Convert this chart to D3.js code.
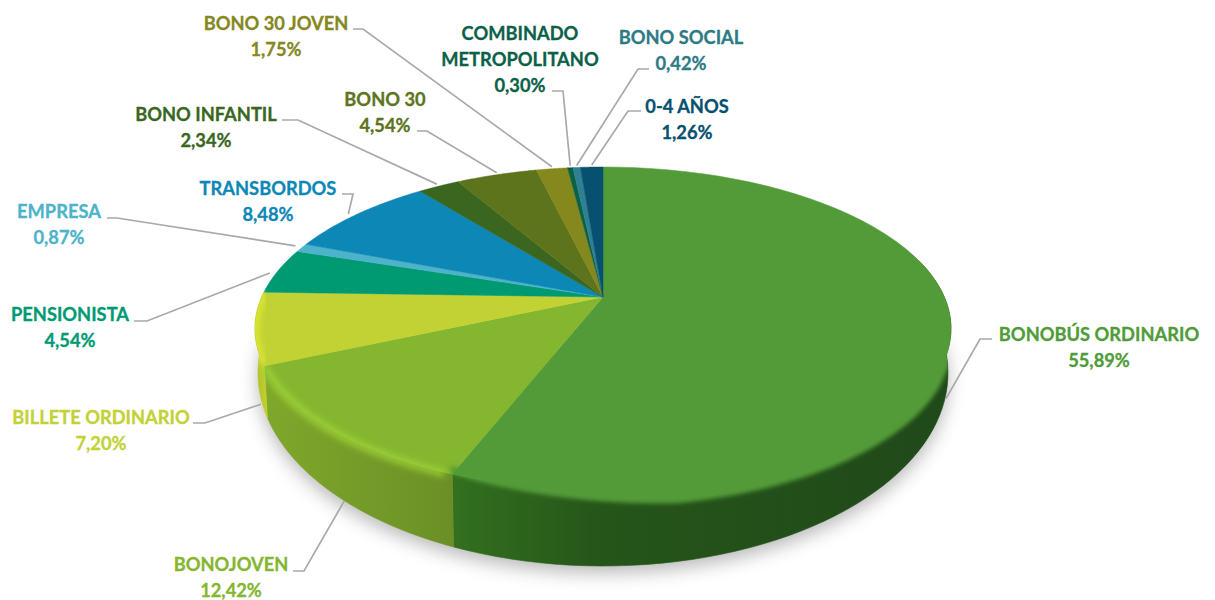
<!DOCTYPE html>
<html><head><meta charset="utf-8">
<style>html,body{margin:0;padding:0;background:#fff}svg{display:block}text{font-family:Lato,"Open Sans",sans-serif;font-weight:700}</style>
<script src="https://cdn.jsdelivr.net/npm/d3@7/dist/d3.min.js"></script>
</head><body><svg id="c" width="1215" height="600"></svg>
<script>
const categories=["BONOBÚS ORDINARIO","BONOJOVEN","BILLETE ORDINARIO","PENSIONISTA","EMPRESA","TRANSBORDOS","BONO INFANTIL","BONO 30","BONO 30 JOVEN","COMBINADO METROPOLITANO","BONO SOCIAL","0-4 AÑOS"];
const values=[55.89,12.42,7.20,4.54,0.87,8.48,2.34,4.54,1.75,0.30,0.42,1.26];
const colors=["#529b38","#85b62f","#c2d235","#009a72","#4cb3ca","#0c87b6","#3a661f","#5d741d","#85881d","#0b6048","#2f8090","#07506f"];
const labelColors=["#4f9c38","#85b62f","#c2d235","#009a72","#4cb3ca","#0c87b6","#3a661f","#5d741d","#85881d","#0b6048","#2d7a85","#07506f"];
const sideLeft=["#33701f","#7fa82b","#aebd2c"], sideRight=["#20491a","#6b8f26","#c4d12e"];
// label layout: centre x, first-line centre y, stub start, elbow, offset of the end from the slice's rim point
const labelLayout=[
 {x:1099,y:335,s:[992,339],e:[980,339],o:[-5,72]},
 {x:231,y:565,s:[293,571],e:[304,571],o:[15,73]},
 {x:101,y:418,s:[193,423],e:[205,423],o:[6,76]},
 {x:70,y:315,s:[134,321],e:[147,321],o:[-8,2]},
 {x:59,y:212,s:[107,218],e:[117,218],o:[-6,-2]},
 {x:268,y:189,s:[342,194],e:[353,194],o:[-9,0]},
 {x:206,y:115,s:[282,120],e:[298,120],o:[-2,-2]},
 {x:385,y:100,s:[417,131],e:[427,131],o:[0,-2]},
 {x:276,y:24,s:[353,29],e:[363,29],o:[0,-2]},
 {x:520,y:34,s:[552,91],e:[563,91],o:[0,-2],lines:["COMBINADO","METROPOLITANO"]},
 {x:681,y:38,s:[649,69],e:[638,69],o:[0,-2]},
 {x:687,y:107,s:[641,111],e:[628,111],o:[0,-2]}
];
const geo={cx:603,apexY:297,topY:167,botY:490,halfW:348,rxB:345,cyB:373,ryB:193};
const svg=d3.select("#c");
const up=geo.apexY-geo.topY, dn=geo.botY-geo.apexY;
const k=(dn-up)/(dn+up), S=up*(1+k), R=geo.halfW*Math.sqrt(1-k*k);
const cyT=(geo.topY+geo.botY)/2, ryT=(geo.botY-geo.topY)/2;
const x=d3.scaleLinear().domain([-1,1]).range([geo.cx-R,geo.cx+R]);
const y=d3.scaleLinear().domain([-1,1]).range([geo.apexY-S,geo.apexY+S]);
function rim(t){const u=Math.sin(t),v=-Math.cos(t),w=1-k*v;return [x(u/w),y(v/w)];}
function bot(t){const p=rim(t);return [geo.cx+(p[0]-geo.cx)*geo.rxB/geo.halfW,geo.cyB+(p[1]-cyT)*geo.ryB/ryT];}
const arcs=d3.pie().sort(null).startAngle(0).endAngle(2*Math.PI)(values);
const line=d3.line();
const samples=(a,b,f)=>d3.range(0,61).map(i=>f(a+(b-a)*i/60));
const fmt=d3.formatLocale({decimal:",",thousands:".",grouping:[3],currency:["","€"]}).format(".2f");
const defs=svg.append("defs");
[["b2",2],["b3",3.5],["b9",9]].forEach(([id,s])=>defs.append("filter").attr("id",id).attr("x","-20%").attr("y","-20%").attr("width","140%").attr("height","140%").append("feGaussianBlur").attr("stdDeviation",s));
const wholeTop=line(d3.range(0,241).map(i=>rim(i/240*2*Math.PI)))+"Z";
const sidePath=line([...samples(Math.PI*0.42,Math.PI*1.6,rim),...samples(Math.PI*0.42,Math.PI*1.6,bot).reverse()])+"Z";
const clip=defs.append("clipPath").attr("id","solid");
clip.append("path").attr("d",wholeTop); clip.append("path").attr("d",sidePath);
// shadow
svg.append("path").attr("d",line(samples(Math.PI/2,3*Math.PI/2,bot).map(p=>[p[0],p[1]+7]))+"Z").attr("fill","#8a8a8a").attr("opacity",.6).attr("filter","url(#b9)");
// sides
const sideLimit=Math.PI*1.6;
arcs.slice(0,3).forEach((a,i)=>{
  const s=Math.max(a.startAngle,Math.PI*0.42), e=Math.min(a.endAngle,sideLimit);
  const ps=[...samples(s,e,rim),...samples(s,e,bot).reverse()];
  const ext=d3.extent(ps,p=>p[0]);
  const g=defs.append("linearGradient").attr("id","s"+i).attr("gradientUnits","userSpaceOnUse").attr("x1",ext[0]).attr("x2",ext[1]).attr("y1",0).attr("y2",0);
  g.append("stop").attr("offset",0).attr("stop-color",sideLeft[i]);
  g.append("stop").attr("offset",i==0?.3:1).attr("stop-color",i==0?"#255519":sideRight[i]);
  if(i==0)g.append("stop").attr("offset",1).attr("stop-color",sideRight[0]);
  svg.append("path").attr("d",line(ps)+"Z").attr("fill",`url(#s${i})`).attr("stroke",`url(#s${i})`).attr("stroke-width",.6);
});
// top face
svg.selectAll("path.top").data(arcs).join("path").attr("class","top")
 .attr("d",a=>line([[x(0),y(0)],...samples(a.startAngle,a.endAngle,rim)])+"Z")
 .attr("fill",(a,i)=>colors[i]).attr("stroke",(a,i)=>colors[i]).attr("stroke-width",.5);
const solid=svg.append("g").attr("clip-path","url(#solid)");
// soft lip of the large slice over its side
{const a=arcs[0], lip=t=>17*Math.min(1,(a.endAngle-t)/0.55);
 const s=Math.PI*0.42,e=a.endAngle;
 const low=samples(s,e,t=>{const p=rim(t);return [p[0],p[1]+lip(t)+(t<Math.PI*.62?18*(Math.PI*.62-t)/(Math.PI*.2):0)];});
 solid.append("path").attr("d",line([...samples(s,e,rim).map(p=>[p[0]-3,p[1]-8]),...low.reverse()])+"Z").attr("fill",colors[0]).attr("filter","url(#b2)");
}
// highlight on the rim of the light slices
const hl=["#a2d838","#e4ee30"];
[1,2].forEach(i=>{const a=arcs[i];
 solid.append("path").attr("d",line(samples(a.startAngle+.02,Math.min(a.endAngle,Math.PI*1.52),t=>{const p=rim(t);return [p[0],p[1]+1];}))).attr("fill","none").attr("stroke",hl[i-1]).attr("stroke-width",6).attr("filter","url(#b3)");
});
// leaders
svg.selectAll("path.lead").data(arcs).join("path").attr("class","lead")
 .attr("d",(a,i)=>{const L=labelLayout[i],p=rim((a.startAngle+a.endAngle)/2);return line([L.s,L.e,[p[0]+L.o[0],p[1]+L.o[1]]]);})
 .attr("fill","none").attr("stroke","#a9a9a9").attr("stroke-width",1.7);
// labels
arcs.forEach((a,i)=>{const L=labelLayout[i],lines=[...(L.lines||[categories[i]]),fmt(values[i])+"%"];
 svg.append("text").attr("fill",labelColors[i]).attr("stroke",labelColors[i]).attr("stroke-width",.3).attr("text-anchor","middle").attr("font-size",18.3)
  .selectAll("tspan").data(lines).join("tspan").attr("x",L.x).attr("y",(d,j)=>L.y+j*26).attr("dy","0.35em").text(d=>d);
});
</script></body></html>
